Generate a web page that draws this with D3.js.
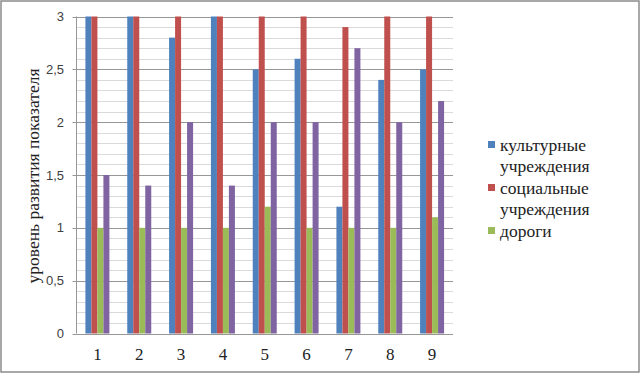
<!DOCTYPE html>
<html>
<head>
<meta charset="utf-8">
<script src="https://cdn.jsdelivr.net/npm/d3@7"></script>
<style>
  body { margin: 0; background: #fff; }
</style>
</head>
<body>
<script>
let width = 640;
let height = 373;

let categories = ["1", "2", "3", "4", "5", "6", "7", "8", "9"];
let cultural = [3, 3, 2.8, 3, 2.5, 2.6, 1.2, 2.4, 2.5];
let social = [3, 3, 3, 3, 3, 3, 2.9, 3, 3];
let roads = [1, 1, 1, 1, 1.2, 1, 1, 1, 1.1];
let fourth = [1.5, 1.4, 2, 1.4, 2, 2, 2.7, 2, 2.2];
let yTicks = [0, 0.5, 1, 1.5, 2, 2.5, 3];

let series = [
    {name: "культурные учреждения", lines: ["культурные", "учреждения"], values: cultural, color: "#4f81bd", legend: true},
    {name: "социальные учреждения", lines: ["социальные", "учреждения"], values: social, color: "#c0504d", legend: true},
    {name: "дороги", lines: ["дороги"], values: roads, color: "#9bbb59", legend: true},
    {name: "", lines: [], values: fourth, color: "#8064a2", legend: false}
];

let serifFont = "'Liberation Serif'";
let sansFont = "'Liberation Sans'";

let svg = d3.select("body")
            .append("svg")
            .attr("width", width)
            .attr("height", height);

// outer frame
svg.append("rect")
    .attr("x", 1)
    .attr("y", 1)
    .attr("width", width - 2)
    .attr("height", height - 2)
    .style("fill", "white")
    .style("stroke", "#8c8c8c")
    .style("stroke-width", 1.5);

let plotLeft = 76.5;
let plotRight = 453;
let plotTop = 16.5;
let plotBottom = 333.5;

let x = d3.scaleBand()
    .domain(categories)
    .range([plotLeft, plotRight]);

let x1 = d3.scaleBand()
    .domain(d3.range(series.length))
    .range([0, 24]);

let y = d3.scaleLinear()
    .domain([0, 3])
    .range([plotBottom, plotTop]);

// minor grid
let minor = d3.range(0, 30).map(d => d / 10).filter(d => !yTicks.includes(d));
svg.append("g")
    .selectAll("line")
    .data(minor)
    .join("line")
    .attr("x1", plotLeft)
    .attr("x2", plotRight)
    .attr("y1", d => Math.round(y(d)) + 0.5)
    .attr("y2", d => Math.round(y(d)) + 0.5)
    .style("stroke", "#dadada")
    .style("stroke-width", 1);

// major grid
svg.append("g")
    .selectAll("line")
    .data(yTicks)
    .join("line")
    .attr("x1", plotLeft - 4)
    .attr("x2", plotRight)
    .attr("y1", d => Math.round(y(d)) + 0.5)
    .attr("y2", d => Math.round(y(d)) + 0.5)
    .style("stroke", "#979797")
    .style("stroke-width", 1);

// y axis line
svg.append("line")
    .attr("x1", plotLeft)
    .attr("x2", plotLeft)
    .attr("y1", plotTop)
    .attr("y2", plotBottom)
    .style("stroke", "#979797");

// bars
series.forEach((s, i) => {
    svg.append("g")
        .selectAll("rect")
        .data(s.values)
        .join("rect")
        .attr("x", (d, j) => x(categories[j]) + x.bandwidth() / 2 - 12 + x1(i))
        .attr("y", d => y(d))
        .attr("width", x1.bandwidth())
        .attr("height", d => plotBottom - y(d))
        .style("fill", s.color);
});

// y tick labels
let fmt = d => String(d).replace(".", ",");
svg.append("g")
    .selectAll("text")
    .data(yTicks)
    .join("text")
    .attr("x", 64)
    .attr("y", d => y(d))
    .attr("dy", "0.35em")
    .attr("text-anchor", "end")
    .style("font-family", sansFont)
    .style("font-size", "13px")
    .style("fill", "#404040")
    .text(fmt);

// x tick labels
svg.append("g")
    .selectAll("text")
    .data(categories)
    .join("text")
    .attr("x", d => x(d) + x.bandwidth() / 2)
    .attr("y", 360)
    .attr("text-anchor", "middle")
    .style("font-family", serifFont)
    .style("font-size", "17px")
    .style("fill", "#222")
    .text(d => d);

// y axis title
svg.append("text")
    .attr("transform", "translate(39,176) rotate(-90)")
    .attr("text-anchor", "middle")
    .style("font-family", serifFont)
    .style("font-size", "17.5px")
    .style("fill", "#222")
    .text("уровень развития показателя");

// legend
let legend = svg.append("g");
let ly = 145;
series.filter(s => s.legend).forEach(s => {
    legend.append("rect")
        .attr("x", 488)
        .attr("y", ly - 4)
        .attr("width", 7)
        .attr("height", 7)
        .style("fill", s.color);
    s.lines.forEach((t, k) => {
        legend.append("text")
            .attr("x", 500)
            .attr("y", ly + k * 21)
            .attr("dy", "0.35em")
            .style("font-family", serifFont)
            .style("font-size", "17.5px")
            .style("fill", "#222")
            .text(t);
    });
    ly += s.lines.length * 21.5;
});
</script>
</body>
</html>
